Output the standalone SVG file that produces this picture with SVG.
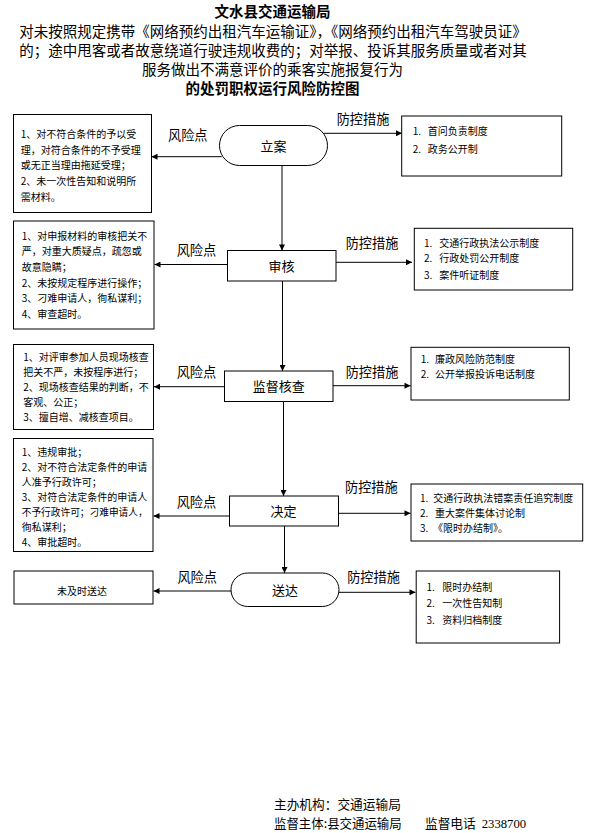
<svg xmlns="http://www.w3.org/2000/svg" width="589" height="833" viewBox="0 0 589 833">
<defs>
<marker id="arr" viewBox="0 0 8 8" refX="8" refY="4" markerWidth="7" markerHeight="6" markerUnits="userSpaceOnUse" orient="auto">
<path d="M0,0 L8,4 L0,8 z" fill="#000"/>
</marker>
<style>
text{font-family:"Noto Sans CJK SC","Noto Sans",sans-serif;fill:#000}
.title{font-size:14.5px}
.b{font-weight:bold}
.node{fill:#fff;stroke:#000;stroke-width:1}
.box{fill:#fff;stroke:#000;stroke-width:1}
.lbl{font-size:13px;text-anchor:middle}
.tag{font-size:13.2px}
.sm{font-size:10px}
.con{stroke:#000;stroke-width:1;fill:none;marker-end:url(#arr)}
.foot{font-size:12.7px}
</style>
</defs>
<rect width="589" height="833" fill="#fff"/>

<g id="title">
<text class="title b" x="272.5" y="16.5" text-anchor="middle">文水县交通运输局</text>
<text class="title" x="273" y="37.2" text-anchor="middle">对未按照规定携带《网络预约出租汽车运输证》，《网络预约出租汽车驾驶员证》</text>
<text class="title" x="273" y="55.5" text-anchor="middle">的；途中甩客或者故意绕道行驶违规收费的；对举报、投诉其服务质量或者对其</text>
<text class="title" x="272.5" y="74.8" text-anchor="middle">服务做出不满意评价的乘客实施报复行为</text>
<text class="title b" x="272.5" y="93.8" text-anchor="middle">的处罚职权运行风险防控图</text>
</g>

<g id="connectors">
<line class="con" x1="282" y1="156" x2="282" y2="250.5"/>
<line class="con" x1="282.5" y1="281" x2="282.5" y2="371"/>
<line class="con" x1="283.5" y1="401.5" x2="283.5" y2="496"/>
<line class="con" x1="284.5" y1="526" x2="284.5" y2="573"/>
<line class="con" x1="221.7" y1="156.7" x2="151.5" y2="156.7"/>
<line class="con" x1="227.5" y1="264.5" x2="154.5" y2="264.5"/>
<line class="con" x1="224.5" y1="386.7" x2="154" y2="386.7"/>
<line class="con" x1="229.5" y1="516" x2="153.5" y2="516"/>
<line class="con" x1="232" y1="591" x2="153.5" y2="591"/>
<line class="con" x1="324" y1="133.3" x2="402" y2="133.3"/>
<line class="con" x1="336" y1="262.3" x2="412" y2="262.3"/>
<line class="con" x1="333" y1="385.7" x2="410.5" y2="385.7"/>
<line class="con" x1="338.5" y1="513.3" x2="410.5" y2="513.3"/>
<line class="con" x1="338" y1="592.3" x2="415.5" y2="592.3"/>
</g>

<g id="labels">
<text class="tag" x="168" y="140">风险点</text>
<text class="tag" x="176.7" y="255">风险点</text>
<text class="tag" x="176.7" y="376.7">风险点</text>
<text class="tag" x="176.7" y="506.7">风险点</text>
<text class="tag" x="177.4" y="581.7">风险点</text>
<text class="tag" x="336.7" y="124.2">防控措施</text>
<text class="tag" x="345.7" y="248.2">防控措施</text>
<text class="tag" x="345.7" y="376.6">防控措施</text>
<text class="tag" x="345" y="492.2">防控措施</text>
<text class="tag" x="347.2" y="582.2">防控措施</text>
</g>

<g id="n-lian">
<rect class="node" x="219.5" y="125.5" width="108" height="40" rx="20" ry="20"/>
<text class="lbl" x="273.5" y="150.6">立案</text>
</g>
<g id="n-shenhe">
<rect class="node" x="227.5" y="250.5" width="108.5" height="30.5"/>
<text class="lbl" x="281.5" y="270.8">审核</text>
</g>
<g id="n-jiandu">
<rect class="node" x="224.5" y="371" width="108.5" height="30.5"/>
<text class="lbl" x="278.7" y="391.3">监督核查</text>
</g>
<g id="n-jueding">
<rect class="node" x="229.5" y="496" width="109" height="30"/>
<text class="lbl" x="283.5" y="516">决定</text>
</g>
<g id="n-songda">
<rect class="node" x="231" y="573" width="108" height="33.5" rx="16.75" ry="16.75"/>
<text class="lbl" x="285" y="595">送达</text>
</g>

<g id="risk1">
<rect class="box" x="13.5" y="114.5" width="138" height="98"/>
<text class="sm" x="20.7" y="137.8">1、对不符合条件的予以受</text>
<text class="sm" x="20.7" y="153.6">理，对符合条件的不予受理</text>
<text class="sm" x="20.7" y="169.4">或无正当理由拖延受理；</text>
<text class="sm" x="20.7" y="185.2">2、未一次性告知和说明所</text>
<text class="sm" x="20.7" y="201">需材料。</text>
</g>
<g id="risk2">
<rect class="box" x="13.5" y="221" width="140.5" height="108"/>
<text class="sm" x="21.7" y="239.5">1、对申报材料的审核把关不</text>
<text class="sm" x="21.7" y="255.2">严，对重大质疑点，疏忽或</text>
<text class="sm" x="21.7" y="270.9">故意隐瞒；</text>
<text class="sm" x="21.7" y="286.6">2、未按规定程序进行操作；</text>
<text class="sm" x="21.7" y="302.3">3、刁难申请人，徇私谋利；</text>
<text class="sm" x="21.7" y="318">4、审查超时。</text>
</g>
<g id="risk3">
<rect class="box" x="13.5" y="344.5" width="140" height="85"/>
<text class="sm" x="23.3" y="361.1">1、对评审参加人员现场核查</text>
<text class="sm" x="23.3" y="376.1">把关不严，未按程序进行；</text>
<text class="sm" x="23.3" y="391.1">2、现场核查结果的判断，不</text>
<text class="sm" x="23.3" y="406.1">客观、公正；</text>
<text class="sm" x="23.3" y="421.1">3、擅自增、减核查项目。</text>
</g>
<g id="risk4">
<rect class="box" x="13.5" y="438.5" width="139.5" height="113"/>
<text class="sm" x="21.7" y="455.5">1、违规审批；</text>
<text class="sm" x="21.7" y="470.5">2、对不符合法定条件的申请</text>
<text class="sm" x="21.7" y="485.5">人准予行政许可；</text>
<text class="sm" x="21.7" y="500.5">3、对符合法定条件的申请人</text>
<text class="sm" x="21.7" y="515.5" textLength="126" lengthAdjust="spacingAndGlyphs">不予行政许可；刁难申请人，</text>
<text class="sm" x="21.7" y="530.5">徇私谋利；</text>
<text class="sm" x="21.7" y="545.5">4、审批超时。</text>
</g>
<g id="risk5">
<rect class="box" x="14" y="571" width="139" height="33"/>
<text class="sm" x="82" y="594.8" text-anchor="middle">未及时送达</text>
</g>

<g id="ctrl1">
<rect class="box" x="401.7" y="116" width="160" height="60"/>
<text class="sm" x="412.7" y="134.5">1.<tspan x="427.7">首问负责制度</tspan></text>
<text class="sm" x="412.7" y="152.8">2.<tspan x="427.7">政务公开制</tspan></text>
</g>
<g id="ctrl2">
<rect class="box" x="414.3" y="228.3" width="158.4" height="61.7"/>
<text class="sm" x="424" y="246.5">1.<tspan x="439.3">交通行政执法公示制度</tspan></text>
<text class="sm" x="424" y="262.1">2.<tspan x="439.3">行政处罚公开制度</tspan></text>
<text class="sm" x="424" y="278.8">3.<tspan x="439.3">案件听证制度</tspan></text>
</g>
<g id="ctrl3">
<rect class="box" x="411" y="347.3" width="158.3" height="52.7"/>
<text class="sm" x="420.7" y="362.8">1.<tspan x="435">廉政风险防范制度</tspan></text>
<text class="sm" x="420.7" y="378.1">2.<tspan x="435">公开举报投诉电话制度</tspan></text>
</g>
<g id="ctrl4">
<rect class="box" x="411" y="484" width="171.7" height="57"/>
<text class="sm" x="420" y="502.1">1.<tspan x="433.3">交通行政执法错案责任追究制度</tspan></text>
<text class="sm" x="420" y="517.1">2.<tspan x="435">重大案件集体讨论制</tspan></text>
<text class="sm" x="420" y="532.1">3.<tspan x="433">《限时办结制》。</tspan></text>
</g>
<g id="ctrl5">
<rect class="box" x="416.2" y="571" width="143.4" height="72"/>
<text class="sm" x="426.4" y="590.5">1.<tspan x="442.3">限时办结制</tspan></text>
<text class="sm" x="426.4" y="607.1">2.<tspan x="442.3">一次性告知制</tspan></text>
<text class="sm" x="426.4" y="623.8">3.<tspan x="442.3">资料归档制度</tspan></text>
</g>

<g id="footer">
<text class="foot" x="274" y="808.8">主办机构：交通运输局</text>
<text class="foot" x="274" y="827.5" textLength="127.7" lengthAdjust="spacingAndGlyphs">监督主体:县交通运输局</text>
<text class="foot" x="425" y="827.5">监督电话</text>
<text class="foot" x="481.7" y="827.5" style="font-family:'Liberation Serif',serif">2338700</text>
</g>
</svg>
